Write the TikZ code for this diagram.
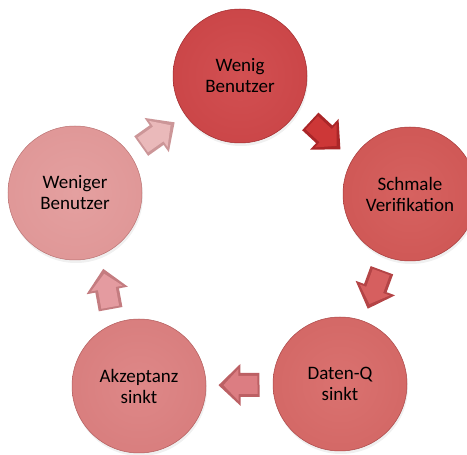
\documentclass[tikz,border=0pt]{standalone}
\usepackage{fontspec}
\setmainfont{Carlito}
\usetikzlibrary{calc,shadows}
% circle colours
\definecolor{cA}{RGB}{200,66,68}\definecolor{cAl}{RGB}{210,80,82}\definecolor{cAd}{RGB}{160,42,45}
\definecolor{cB}{RGB}{205,84,82}\definecolor{cBl}{RGB}{214,98,96}\definecolor{cBd}{RGB}{165,58,58}
\definecolor{cC}{RGB}{209,100,98}\definecolor{cCl}{RGB}{218,114,112}\definecolor{cCd}{RGB}{170,72,72}
\definecolor{cD}{RGB}{214,122,122}\definecolor{cDl}{RGB}{222,136,136}\definecolor{cDd}{RGB}{178,92,92}
\definecolor{cE}{RGB}{222,148,148}\definecolor{cEl}{RGB}{228,160,160}\definecolor{cEd}{RGB}{186,114,114}
% arrow colours
\definecolor{aA}{RGB}{205,55,55}\definecolor{aAd}{RGB}{170,38,40}
\definecolor{aB}{RGB}{214,95,95}\definecolor{aBd}{RGB}{180,68,70}
\definecolor{aC}{RGB}{220,125,130}\definecolor{aCd}{RGB}{188,96,100}
\definecolor{aD}{RGB}{228,155,160}\definecolor{aDd}{RGB}{196,124,128}
\definecolor{aE}{RGB}{234,185,186}\definecolor{aEd}{RGB}{204,150,152}
\pgfdeclareradialshading{shA}{\pgfpoint{0bp}{0bp}}{color(0bp)=(cAl); color(36bp)=(cA); color(45bp)=(cA); color(50bp)=(cAd)}
\pgfdeclareradialshading{shB}{\pgfpoint{0bp}{0bp}}{color(0bp)=(cBl); color(36bp)=(cB); color(45bp)=(cB); color(50bp)=(cBd)}
\pgfdeclareradialshading{shC}{\pgfpoint{0bp}{0bp}}{color(0bp)=(cCl); color(36bp)=(cC); color(45bp)=(cC); color(50bp)=(cCd)}
\pgfdeclareradialshading{shD}{\pgfpoint{0bp}{0bp}}{color(0bp)=(cDl); color(36bp)=(cD); color(45bp)=(cD); color(50bp)=(cDd)}
\pgfdeclareradialshading{shE}{\pgfpoint{0bp}{0bp}}{color(0bp)=(cEl); color(36bp)=(cE); color(45bp)=(cE); color(50bp)=(cEd)}
\tikzset{
  bubble/.style={circle, minimum size=134pt, inner sep=0pt, align=center,
    font=\fontsize{19}{21}\selectfont, text=black,
    drop shadow={opacity=0.12, shadow xshift=1pt, shadow yshift=-3pt}},
  pics/blockarr/.style 2 args={code={
    \fill[#2] (-20,-12) -- (-1,-12) -- (-1,-21) -- (21,0) -- (-1,21) -- (-1,12) -- (-20,12) -- cycle;
    \fill[#1] (-18,-9) -- (1,-9) -- (1,-16) -- (16,0) -- (1,16) -- (1,9) -- (-18,9) -- cycle;
  }}
}
\begin{document}
\begin{tikzpicture}[x=1pt,y=1pt]
\useasboundingbox (0,0) rectangle (467,455);
\clip (0,0) rectangle (467,455);
\node[bubble, shading=shA, draw=cAd, line width=0.5pt] (n1) at (240,379) {Wenig\\Benutzer};
\node[bubble, shading=shB, draw=cBd, line width=0.5pt] (n2) at (410,261) {Schmale\\Verifikation};
\node[bubble, shading=shC, draw=cCd, line width=0.5pt] (n3) at (340,71) {Daten-Q\\sinkt};
\node[bubble, shading=shD, draw=cDd, line width=0.5pt] (n4) at (139,69) {Akzeptanz\\sinkt};
\node[bubble, shading=shE, draw=cEd, line width=0.5pt] (n5) at (75,262) {Weniger\\Benutzer};
\path let \p1=($(n2)-(n1)$), \n1={atan2(\y1,\x1)-8} in pic[rotate=\n1] at ($(n1)!0.5!(n2)$) {blockarr={aA}{aAd}};
\path let \p1=($(n3)-(n2)$), \n1={atan2(\y1,\x1)} in pic[rotate=\n1] at ($(n2)!0.5!(n3)$) {blockarr={aB}{aBd}};
\path let \p1=($(n4)-(n3)$), \n1={atan2(\y1,\x1)} in pic[rotate=\n1] at ($(n3)!0.5!(n4)$) {blockarr={aC}{aCd}};
\path let \p1=($(n5)-(n4)$), \n1={atan2(\y1,\x1)-8} in pic[rotate=\n1] at ($(n4)!0.5!(n5)$) {blockarr={aD}{aDd}};
\path let \p1=($(n1)-(n5)$), \n1={atan2(\y1,\x1)} in pic[rotate=\n1] at ($(n5)!0.5!(n1)$) {blockarr={aE}{aEd}};
\end{tikzpicture}
\end{document}
